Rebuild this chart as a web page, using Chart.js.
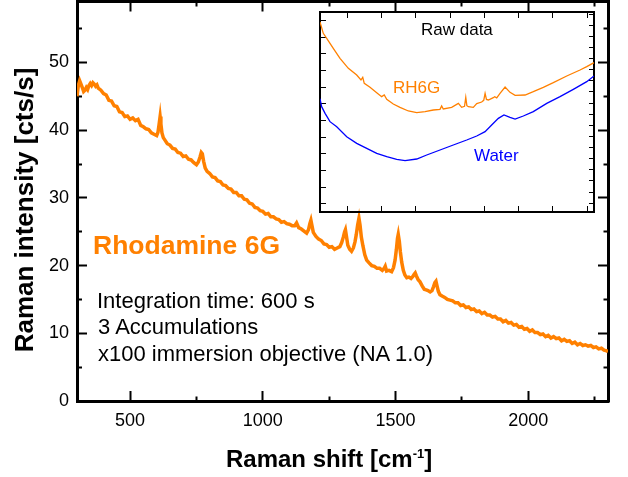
<!DOCTYPE html>
<html>
<head>
<meta charset="utf-8">
<title>Rhodamine 6G Raman spectrum</title>
<script src="https://cdn.jsdelivr.net/npm/chart.js@4.4.1/dist/chart.umd.min.js"></script>
<style>
  body { margin: 0; background: #fff; }
  #wrap { position: relative; width: 628px; height: 477px; overflow: hidden;
          font-family: "Liberation Sans", Arial, sans-serif; color: #000; }
  #wrap canvas { position: absolute; }
  .lbl { position: absolute; white-space: nowrap; line-height: 1; }
</style>
</head>
<body>
<div id="wrap">
  <canvas id="main" width="628" height="477" style="left:0;top:0"></canvas>
  <canvas id="inset" width="280" height="206" style="left:317px;top:9px"></canvas>

  <div class="lbl" style="left:-126px;top:197px;width:300px;text-align:center;font-size:26px;font-weight:bold;transform:rotate(-90deg)">Raman intensity [cts/s]</div>
  <div class="lbl" style="left:226px;top:446.7px;font-size:24px;font-weight:bold">Raman shift [cm<span style="position:relative;top:-9px;font-size:13px">-1</span>]</div>

  <div class="lbl" style="left:93px;top:231.6px;font-size:26.5px;font-weight:bold;color:#ff8000">Rhodamine 6G</div>
  <div class="lbl" style="left:97px;top:289.7px;font-size:22px">Integration time: 600 s</div>
  <div class="lbl" style="left:98px;top:316.4px;font-size:22px">3 Accumulations</div>
  <div class="lbl" style="left:98px;top:343.1px;font-size:22px">x100 immersion objective (NA 1.0)</div>

  <div class="lbl" style="left:421px;top:20.6px;font-size:17px">Raw data</div>
  <div class="lbl" style="left:393px;top:78.6px;font-size:17px;color:#ff8000">RH6G</div>
  <div class="lbl" style="left:474px;top:147.3px;font-size:17px;color:#0000ff">Water</div>
</div>

<script>
// main spectrum (background-corrected), Raman shift in cm-1, intensity in cts/s
const shift = [
  300, 305, 310, 315, 320, 325, 330, 335, 340, 345, 350, 355, 360, 365, 370, 375, 380, 390, 400, 410,
  420, 430, 440, 450, 460, 470, 480, 490, 500, 510, 520, 530, 540, 550, 560, 570, 580, 590, 600, 605,
  609, 613, 616, 620, 625, 630, 640, 650, 660, 670, 680, 690, 700, 710, 720, 730, 740, 750, 757, 763,
  768, 772, 777, 783, 790, 800, 810, 820, 830, 840, 850, 860, 870, 880, 890, 900, 910, 920, 930, 940,
  950, 960, 970, 980, 990, 1000, 1010, 1020, 1030, 1040, 1050, 1060, 1070, 1080, 1090, 1100, 1110, 1120, 1127, 1135,
  1145, 1155, 1165, 1172, 1177, 1181, 1185, 1190, 1200, 1210, 1220, 1230, 1240, 1250, 1260, 1270, 1280, 1290, 1297, 1303,
  1308, 1311, 1315, 1320, 1327, 1334, 1341, 1347, 1352, 1357, 1362, 1366, 1371, 1377, 1384, 1391, 1400, 1410, 1420, 1430,
  1440, 1450, 1457, 1461, 1466, 1475, 1485, 1492, 1498, 1503, 1507, 1510, 1514, 1518, 1523, 1529, 1535, 1542, 1550, 1558,
  1565, 1570, 1574, 1578, 1585, 1592, 1600, 1608, 1615, 1622, 1630, 1637, 1643, 1648, 1652, 1656, 1661, 1667, 1675, 1685,
  1695, 1705, 1715, 1725, 1735, 1745, 1755, 1765, 1775, 1785, 1795, 1805, 1815, 1825, 1835, 1845, 1855, 1865, 1875, 1885,
  1895, 1905, 1915, 1925, 1935, 1945, 1955, 1965, 1975, 1985, 1995, 2005, 2015, 2025, 2035, 2045, 2055, 2065, 2075, 2085,
  2095, 2105, 2115, 2125, 2135, 2145, 2155, 2165, 2175, 2185, 2195, 2205, 2215, 2225, 2235, 2245, 2255, 2265, 2275, 2285,
  2295, 2300
];
const intensity = [
  45.0, 46.6, 47.3, 46.8, 46.3, 45.7, 45.9, 46.3, 46.0, 46.6, 46.9, 46.6, 47.0, 46.8, 46.5, 46.7, 46.2, 45.9, 45.4, 45.2,
  44.4, 44.3, 43.6, 43.5, 42.7, 42.6, 42.0, 42.1, 41.6, 41.8, 41.4, 41.6, 40.7, 40.5, 40.2, 40.1, 39.6, 39.4, 39.2, 39.7,
  40.8, 42.0, 40.9, 39.6, 38.9, 38.6, 38.0, 37.8, 37.3, 37.2, 36.7, 36.6, 36.1, 36.2, 35.7, 35.6, 35.2, 34.9, 35.3, 36.0,
  36.7, 36.5, 35.4, 34.4, 33.9, 33.6, 33.1, 33.0, 32.5, 32.4, 31.9, 31.8, 31.4, 31.3, 30.8, 30.8, 30.3, 30.3, 29.8, 29.7,
  29.2, 29.1, 28.6, 28.5, 28.1, 28.0, 27.6, 27.7, 27.2, 27.2, 26.9, 26.8, 26.4, 26.5, 26.2, 26.1, 25.9, 25.9, 26.3, 25.6,
  25.4, 25.1, 24.8, 25.3, 26.2, 26.7, 25.9, 24.9, 24.3, 23.9, 23.7, 23.2, 23.1, 22.7, 22.8, 22.4, 22.6, 22.8, 23.4, 24.2,
  25.0, 25.3, 24.3, 23.0, 22.4, 22.1, 22.6, 23.5, 24.6, 26.0, 27.0, 26.0, 24.2, 22.9, 21.6, 20.8, 20.4, 20.0, 19.9, 19.6,
  19.6, 19.3, 19.6, 19.9, 19.2, 19.3, 19.1, 19.7, 20.8, 22.4, 24.0, 24.6, 23.6, 22.0, 20.5, 19.3, 18.6, 18.2, 18.3, 18.1,
  18.4, 18.7, 18.9, 18.5, 17.9, 17.6, 17.0, 16.5, 16.4, 16.3, 16.1, 16.3, 16.9, 17.5, 17.7, 17.0, 16.2, 15.7, 15.5, 15.3,
  15.0, 14.9, 14.8, 14.5, 14.5, 14.1, 14.2, 13.8, 13.9, 13.5, 13.6, 13.2, 13.3, 12.9, 13.1, 12.7, 12.7, 12.4, 12.5, 12.1,
  12.1, 11.7, 11.9, 11.5, 11.6, 11.2, 11.3, 10.9, 11.0, 10.6, 10.7, 10.3, 10.5, 10.1, 10.1, 9.8, 9.9, 9.5, 9.7, 9.3,
  9.5, 9.2, 9.3, 8.9, 9.1, 8.8, 8.9, 8.5, 8.7, 8.3, 8.5, 8.2, 8.3, 8.1, 8.2, 7.9, 8.0, 7.7, 7.8, 7.5,
  7.4, 7.3
];

// inset: raw data (arbitrary counts)
const rawShiftRh6g = [
  300, 324, 349, 397, 446, 507, 568, 599, 612, 623, 665, 714, 750, 769, 787, 835, 884, 945, 1006, 1067,
  1127, 1176, 1188, 1200, 1261, 1310, 1334, 1355, 1364, 1372, 1383, 1419, 1444, 1480, 1495, 1505, 1515, 1529, 1565, 1575,
  1590, 1614, 1651, 1687, 1724, 1797, 1857, 1930, 2003, 2101, 2198, 2247, 2300
];
const rawRh6g = [
  1390, 1322, 1292, 1232, 1172, 1112, 1072, 1042, 1058, 1022, 998, 966, 942, 952, 926, 898, 878, 856, 846, 852,
  862, 866, 886, 868, 878, 902, 878, 884, 938, 888, 882, 878, 900, 910, 920, 962, 925, 922, 936, 942,
  935, 962, 1000, 968, 950, 952, 972, 998, 1026, 1066, 1102, 1122, 1146
];
const rawShiftWater = [
  300, 312, 337, 373, 422, 495, 568, 641, 714, 787, 860, 921, 1006, 1079, 1176, 1273, 1371, 1444, 1505, 1553,
  1602, 1643, 1687, 1724, 1784, 1857, 1955, 2052, 2149, 2247, 2300
];
const rawWater = [
  930, 882, 842, 792, 762, 702, 662, 632, 602, 582, 566, 558, 568, 592, 622, 652, 682, 706, 732, 772,
  812, 832, 818, 808, 826, 852, 902, 942, 986, 1032, 1066
];

// tick positions (labels only on the majors)
const xTicks = [500, 750, 1000, 1250, 1500, 1750, 2000, 2250];
const xLabels = [500, 1000, 1500, 2000];
const yTicks = [0, 5, 10, 15, 20, 25, 30, 35, 40, 45, 50, 55];
const yLabels = [0, 10, 20, 30, 40, 50];
const insetXTicks = [500, 750, 1000, 1250, 1500, 1750, 2000, 2250];
const insetYTicks = [300, 400, 500, 600, 700, 800, 900, 1000, 1100, 1200, 1300, 1400];
const insetYRightTicks = [0, 1, 2, 3, 4, 5, 6, 7, 8, 9, 10, 11, 12, 13, 14, 15, 16, 17];

const FONT = "'Liberation Sans', Arial, sans-serif";
const ORANGE = '#ff8000';
const BLUE = '#0000ff';

Chart.defaults.font.family = FONT;
Chart.defaults.color = '#000';

function pairs(xs, ys) {
  return xs.map((x, i) => ({ x: x, y: ys[i] }));
}

// inward ticks; minor ticks are shortened with a dash pattern
// innerFirst: chart.js draws the tick starting from the inner end (left / top axes)
function tickGrid(majors, len, minorLen, width, innerFirst) {
  const isMinor = ctx => majors && majors.indexOf(ctx.tick.value) < 0;
  return {
    drawOnChartArea: false,
    drawTicks: true,
    tickLength: -len,
    tickWidth: width,
    tickColor: '#000',
    tickBorderDash: ctx => isMinor(ctx) ? (innerFirst ? [60, len - minorLen] : [minorLen + 1.5, 60]) : [],
    tickBorderDashOffset: ctx => (isMinor(ctx) && innerFirst) ? 60 : 0
  };
}

function axis(position, min, max, tickValues, size, extra) {
  return Object.assign({
    type: 'linear',
    position: position,
    min: min,
    max: max,
    bounds: 'data',
    display: true,
    ticks: { display: false, autoSkip: false },
    afterBuildTicks: s => { s.ticks = tickValues.map(v => ({ value: v })); },
    afterFit: s => {
      if (s.isHorizontal()) s.height = size; else s.width = size;
      s.paddingTop = s.paddingBottom = s.paddingLeft = s.paddingRight = 0;
    }
  }, extra);
}

new Chart(document.getElementById('main'), {
  type: 'line',
  data: {
    datasets: [{
      data: pairs(shift, intensity),
      borderColor: ORANGE,
      borderWidth: 3.5,
      pointRadius: 0,
      tension: 0,
      xAxisID: 'x',
      yAxisID: 'y'
    }]
  },
  options: {
    responsive: false,
    animation: false,
    devicePixelRatio: 1,
    events: [],
    layout: { padding: 0, autoPadding: false },
    plugins: { legend: { display: false }, tooltip: { enabled: false } },
    scales: {
      x: axis('bottom', 300, 2300, xTicks, 76, {
        ticks: {
          display: true, autoSkip: false, maxRotation: 0, padding: 19, font: { size: 18 }, color: '#000',
          callback: v => (xLabels.indexOf(v) >= 0 ? String(v) : '')
        },
        grid: tickGrid(xLabels, 10, 5, 2, false),
        border: { display: true, width: 3, color: '#000' }
      }),
      xTop: axis('top', 300, 2300, xTicks, 1.5, {
        grid: tickGrid(xLabels, 10, 5, 2, true),
        border: { display: true, width: 3, color: '#000' }
      }),
      y: axis('left', 0, 59, yTicks, 77, {
        ticks: {
          display: true, autoSkip: false, padding: 18, font: { size: 18 }, color: '#000',
          callback: v => (yLabels.indexOf(v) >= 0 ? String(v) : '')
        },
        grid: tickGrid(yLabels, 10, 5, 2, true),
        border: { display: true, width: 3, color: '#000' }
      }),
      yRight: axis('right', 0, 59, yTicks, 20, {
        grid: tickGrid(yLabels, 10, 5, 2, false),
        border: { display: true, width: 3, color: '#000' }
      })
    }
  }
});

new Chart(document.getElementById('inset'), {
  type: 'line',
  data: {
    datasets: [{
      data: pairs(rawShiftRh6g, rawRh6g),
      borderColor: ORANGE,
      borderWidth: 1.3,
      pointRadius: 0,
      tension: 0,
      xAxisID: 'x',
      yAxisID: 'y'
    }, {
      data: pairs(rawShiftWater, rawWater),
      borderColor: BLUE,
      borderWidth: 1.3,
      pointRadius: 0,
      tension: 0,
      xAxisID: 'x',
      yAxisID: 'y'
    }]
  },
  options: {
    responsive: false,
    animation: false,
    devicePixelRatio: 1,
    events: [],
    layout: { padding: 0, autoPadding: false },
    plugins: { legend: { display: false }, tooltip: { enabled: false } },
    scales: {
      x: axis('bottom', 300, 2300, insetXTicks, 3, {
        grid: tickGrid(null, 6, 6, 1, false),
        border: { display: true, width: 2, color: '#000' }
      }),
      xTop: axis('top', 300, 2300, insetXTicks, 3, {
        grid: tickGrid(null, 6, 6, 1, true),
        border: { display: true, width: 2, color: '#000' }
      }),
      y: axis('left', 250, 1450, insetYTicks, 3, {
        grid: tickGrid(null, 6, 6, 1, true),
        border: { display: true, width: 2, color: '#000' }
      }),
      yRight: axis('right', -0.8, 17.2, insetYRightTicks, 3, {
        grid: tickGrid(null, 5, 5, 1, false),
        border: { display: true, width: 2, color: '#000' }
      })
    }
  }
});
</script>
</body>
</html>
